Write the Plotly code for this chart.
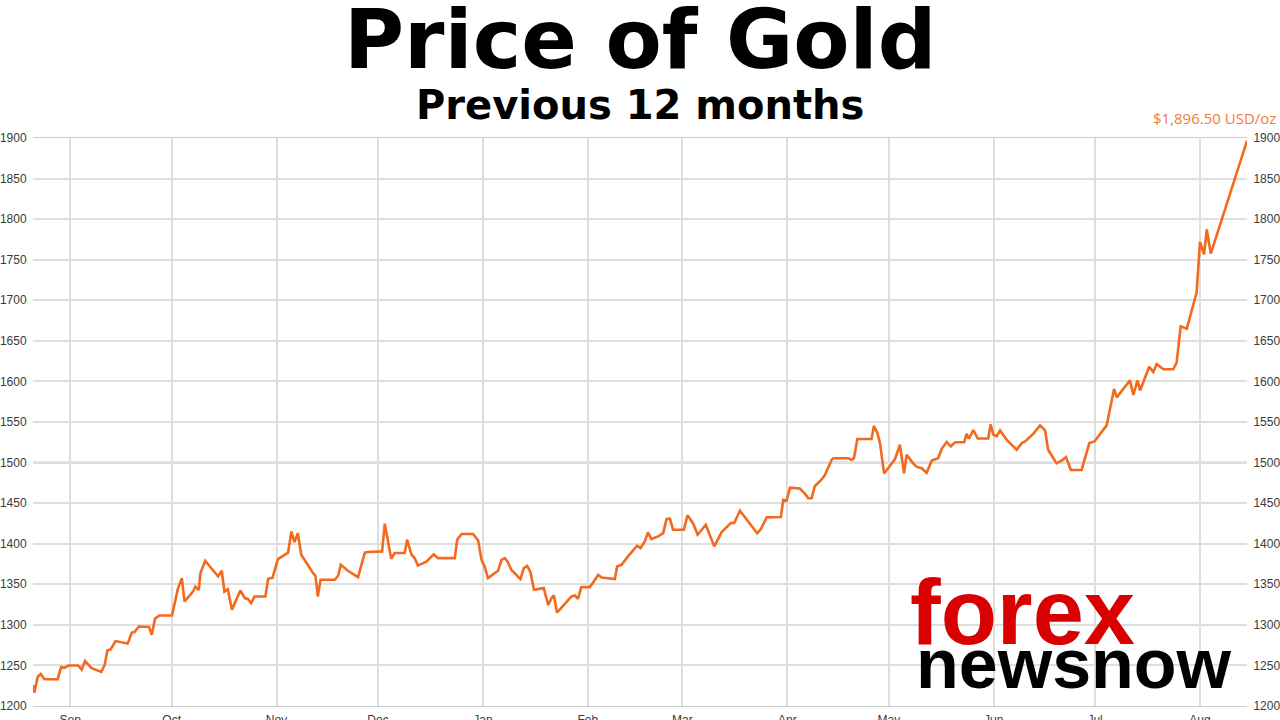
import pandas as pd
import plotly.graph_objects as go

# ---- data ----
start_date = "2010-08-21"
# days after start_date of each visible vertex of the line
days = [0.0, 0.4, 1.4, 2.3, 3.4, 7.3, 8.3, 9.3, 10.5, 13.3, 14.4, 15.4, 17.2, 20.2, 21.2, 22.0,
        22.9, 24.4, 28.0, 29.2, 30.0, 31.3, 34.3, 35.1, 36.1, 37.4, 41.1, 42.8, 44.0, 44.8,
        47.3, 48.0, 49.0, 49.5, 50.9, 54.7, 55.8, 56.6, 57.6, 58.8, 61.3, 62.6, 63.5, 64.5,
        65.5, 68.7, 69.5, 70.8, 72.4, 75.4, 76.4, 77.3, 78.3, 79.3, 82.8, 83.5, 84.2, 85.0,
        89.2, 90.2, 91.0, 93.1, 96.1, 98.1, 99.0, 103.2, 104.0, 105.9, 106.9, 109.9, 110.6,
        111.9, 112.8, 113.8, 116.3, 118.5, 119.7, 124.7, 125.4, 126.7, 130.1, 131.6, 132.6,
        133.5, 134.5, 137.5, 138.5, 139.5, 140.3, 141.4, 144.1, 145.1, 146.1, 147.1, 148.1,
        151.0, 152.3, 153.3, 154.0, 154.9, 156.7, 159.2, 160.2, 161.1, 162.1, 164.6, 165.6,
        167.1, 168.1, 172.0, 172.7, 174.0, 175.9, 178.6, 179.6, 180.9, 181.8, 182.8, 184.8,
        186.3, 187.3, 188.3, 189.2, 192.4, 193.5, 195.2, 196.5, 198.9, 201.4, 203.6, 206.3,
        207.3, 209.0, 211.0, 214.1, 215.2, 216.9, 221.1, 221.8, 222.8, 223.8, 226.7, 228.2,
        229.2, 230.2, 231.1, 233.1, 234.1, 236.1, 236.6, 241.0, 242.0, 242.7, 243.7, 247.9,
        248.6, 249.6, 250.4, 251.6, 252.4, 254.8, 256.3, 257.5, 258.3, 260.2, 261.2, 262.7,
        264.2, 265.7, 267.6, 268.6, 270.1, 271.3, 272.6, 275.3, 276.0, 276.7, 278.0, 279.3,
        282.4, 283.1, 283.9, 284.9, 285.9, 287.8, 290.8, 292.3, 293.3, 295.7, 297.7, 299.2,
        300.1, 302.6, 304.1, 305.4, 306.8, 310.0, 312.3, 313.8, 317.4, 319.6, 320.4, 324.3,
        325.3, 326.5, 327.3, 330.0, 331.2, 332.2, 334.2, 337.1, 338.1, 339.3, 341.1, 344.0,
        345.0, 346.2, 347.0, 348.2, 358.9]
prices = [1226, 1216.5, 1236, 1239.5, 1233, 1233, 1248, 1247, 1250, 1250, 1245, 1255.5, 1247,
          1242, 1250.6, 1268.7, 1269.5, 1280, 1277, 1290.5, 1291, 1298, 1297.5, 1287.7, 1308,
          1311.5, 1311.5, 1344, 1357.6, 1328.8, 1341, 1347, 1343, 1363.8, 1379, 1359.7, 1366.7,
          1341, 1344, 1318.5, 1342.4, 1333, 1332, 1326.7, 1335, 1335, 1356.8, 1358, 1381, 1389,
          1415, 1402, 1413, 1386.4, 1363.8, 1360.5, 1335, 1355.5, 1355.5, 1360.5, 1374, 1366.7,
          1358.8, 1389, 1389.7, 1390.5, 1424.7, 1381.5, 1388.5, 1388.5, 1405, 1386.4, 1382.3,
          1373, 1378, 1387, 1382.3, 1382.3, 1405, 1412, 1412, 1404, 1380, 1372, 1357.6, 1366.7,
          1380, 1382.3, 1378, 1368, 1356.4, 1370, 1372.8, 1364.6, 1343.2, 1345.3, 1324.7, 1333,
          1336.2, 1315.2, 1323.5, 1335, 1336.2, 1332, 1346.5, 1346.5, 1352.3, 1361.7, 1358.4,
          1356.4, 1372, 1374, 1384.4, 1397.5, 1394.6, 1403, 1414, 1405.8, 1409, 1413, 1430.4,
          1430.8, 1417.3, 1417.3, 1435, 1424.7, 1411, 1423.4, 1396.7, 1414.4, 1425.5, 1425.5,
          1440.7, 1429.6, 1413, 1418, 1432.5, 1433, 1454, 1453, 1469, 1468, 1461.7, 1456, 1456,
          1470.8, 1479, 1484.6, 1503.3, 1505.4, 1505.4, 1503.3, 1505.4, 1529, 1529, 1545,
          1536.7, 1524, 1486.7, 1490.8, 1504, 1522, 1486.7, 1509.6, 1499, 1495, 1493, 1487.5,
          1502.5, 1505.4, 1516.7, 1525.4, 1520, 1525, 1525, 1535.4, 1529.6, 1540, 1529.6,
          1529.6, 1547, 1534.6, 1532.5, 1539.6, 1528.3, 1515.8, 1524, 1526, 1535.4, 1545.8,
          1539.6, 1515.8, 1499, 1502.5, 1506.7, 1490.8, 1490.8, 1524, 1526, 1545.8, 1590.8,
          1580.4, 1601.3, 1583.3, 1601.3, 1588.8, 1618, 1611.7, 1621.3, 1615, 1615, 1623.3,
          1668, 1665, 1709.6, 1772, 1756.7, 1787.5, 1757.5, 1896.5]

y_ticks = [1200, 1250, 1300, 1350, 1400, 1450, 1500, 1550, 1600, 1650, 1700, 1750, 1800, 1850, 1900]
title_text = "Price of Gold"
subtitle_text = "Previous 12 months"
price_label = "$1,896.50 USD/oz"
logo_top = "forex"
logo_bottom = "newsnow"

dates = pd.Timestamp(start_date) + pd.to_timedelta(days, unit="D")

LINE = "#F26A1E"
GRID = "#DEDEDE"
TICKFONT = dict(family="Liberation Sans, Arial, sans-serif", size=12, color="#3a3a3a")

fig = go.Figure()
fig.add_trace(go.Scatter(x=dates, y=prices, mode="lines",
                         line=dict(color=LINE, width=2.6), yaxis="y",
                         showlegend=False, hoverinfo="x+y"))
fig.add_trace(go.Scatter(x=dates, y=prices, mode="lines",
                         line=dict(color="rgba(0,0,0,0)", width=0), yaxis="y2",
                         showlegend=False, hoverinfo="skip"))

fig.update_layout(
    width=1280, height=720,
    margin=dict(l=33, r=33, t=138, b=14),
    paper_bgcolor="white", plot_bgcolor="white",
    xaxis=dict(type="date", range=[dates[0], dates[-1]], automargin=False,
               tick0="2010-09-01", dtick="M1", tickformat="%b",
               showgrid=True, gridcolor=GRID, gridwidth=1.5,
               showline=True, linecolor="#CCCCCC", mirror=True,
               ticks="outside", ticklen=3, tickcolor="rgba(0,0,0,0)",
               tickfont=TICKFONT, zeroline=False, fixedrange=True),
    yaxis=dict(range=[1200, 1900], tickvals=y_ticks, side="left", automargin=False,
               showgrid=True, gridcolor=GRID, gridwidth=1.5, zeroline=False,
               ticks="outside", ticklen=3, tickcolor="rgba(0,0,0,0)",
               tickfont=TICKFONT, showline=False),
    yaxis2=dict(range=[1200, 1900], tickvals=y_ticks, side="right", automargin=False,
                overlaying="y", showgrid=False, zeroline=False,
                ticks="outside", ticklen=3, tickcolor="rgba(0,0,0,0)",
                tickfont=TICKFONT, showline=False),
)

# darker reference line at 1500
fig.add_shape(type="line", xref="paper", x0=0, x1=1, yref="y", y0=1500, y1=1500,
              line=dict(color="#A8A8A8", width=1.5), layer="below")

fig.add_annotation(text=title_text, xref="paper", yref="paper", x=0.5, y=1.173,
                   xanchor="center", yanchor="middle", showarrow=False,
                   font=dict(family="DejaVu Sans", size=82, color="black", weight="bold"))
fig.add_annotation(text=subtitle_text, xref="paper", yref="paper", x=0.5, y=1.058,
                   xanchor="center", yanchor="middle", showarrow=False,
                   font=dict(family="DejaVu Sans", size=40, color="black", weight="bold"))
fig.add_annotation(text=price_label, xref="paper", yref="paper", x=1.0255, y=1.036,
                   xanchor="right", yanchor="middle", showarrow=False,
                   font=dict(family="Open Sans", size=15, color="#F07C3C"))
fig.add_annotation(text=logo_top, xref="paper", yref="paper", x=0.721, y=0.166,
                   xanchor="left", yanchor="middle", showarrow=False,
                   font=dict(family="Liberation Sans", size=92, color="#D80000", weight="bold"))
fig.add_annotation(text=logo_bottom, xref="paper", yref="paper", x=0.726, y=0.074,
                   xanchor="left", yanchor="middle", showarrow=False,
                   font=dict(family="Liberation Sans", size=70, color="#000000", weight="bold"))

fig.write_html("out.html", config={"displayModeBar": False},
               post_script="document.body.style.margin='0';")
